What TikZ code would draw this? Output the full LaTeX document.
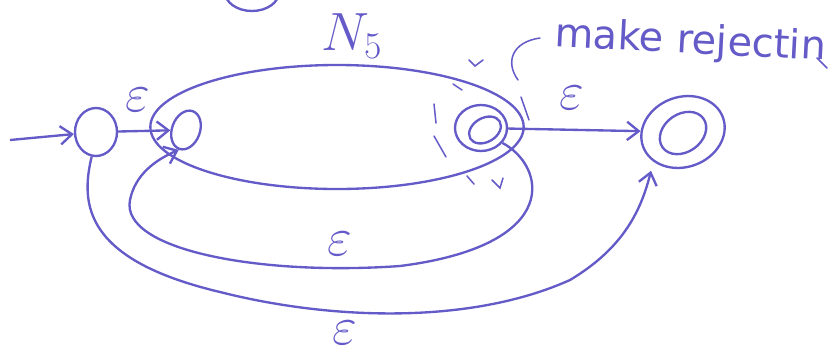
\RequirePackage{fix-cm}
\documentclass[tikz,border=0pt]{standalone}
\usepackage{amsmath}
\usepackage{fontspec}
\newfontfamily\handfont{DejaVu Sans}
\usetikzlibrary{positioning, arrows.meta, shapes.geometric}
\definecolor{ink}{RGB}{100,90,200}
\tikzset{every picture/.append style={thick}}
\tikzset{
  state/.style={draw, ellipse, inner sep=0pt},
  lbl/.style={font=\fontsize{46}{50}\selectfont, inner sep=0pt},
  scribble/.style={line width=1.3pt, line cap=round},
}

\begin{document}
\begin{tikzpicture}[x=0.3mm, y=-0.3mm, ink, line width=2pt, >={Straight Barb[length=3.5mm, width=5.5mm]}]
    \clip (0,0) rectangle (832,355);

    % States
    \node[state, minimum width=12.6mm, minimum height=14.4mm] (q0) at (96,132) {};
    \node[state, minimum width=12mm, minimum height=8.4mm, rotate=70] (s1) at (186,130) {};
    \node[state, minimum width=15.6mm, minimum height=13.8mm] (a) at (481,128) {};
    \node[state, minimum width=10.2mm, minimum height=7.2mm, rotate=30] (ain) at (485,130) {};
    \node[state, minimum width=25.5mm, minimum height=21mm, rotate=20] (f) at (683,132) {};
    \node[state, minimum width=15mm, minimum height=11.4mm, rotate=35] (fin) at (683,133) {};

    % Machine N_5
    \node[state, minimum width=112mm, minimum height=37.2mm] (n5) at (337,127) {};
    \node[lbl] (n5lbl) at (352,36) {$N_5$};
    \draw (252,-8) ellipse (27 and 19);

    % Transitions
    \coordinate (start) at (10,140);
    \draw[->] (start) -- (q0);
    \draw[->] (q0) -- (s1);
    \node[lbl] (eps1) at (138,100) {$\varepsilon$};
    \draw[->] (a) -- (f);
    \node[lbl] (eps2) at (572,98) {$\varepsilon$};

    % Loop back into N_5
    \draw[->] (a.-35) .. controls (545,165) and (565,245) .. (400,266)
        .. controls (260,276) and (120,250) .. (130,200)
        .. controls (135,175) and (155,160) .. (s1.west);
    \node[lbl] (eps3) at (340,244) {$\varepsilon$};

    % Skip to the final state
    \draw[->, shorten >=8pt] (q0.-100) .. controls (80,205) and (85,260) .. (220,292)
        .. controls (330,320) and (470,325) .. (570,280)
        .. controls (620,250) and (640,215) .. (f.-155);
    \node[lbl] (eps4) at (345,333) {$\varepsilon$};

    % Marking the accept state
    \draw[scribble] (434,104) -- (436,123);
    \draw[scribble] (434,136) -- (446,157);
    \draw[scribble] (453,84) -- (462,90);
    \draw[scribble] (469,60) -- (475,66) -- (483,60);
    \draw[scribble] (467,176) -- (474,184);
    \draw[scribble] (492,180) -- (500,188) -- (503,178);
    \draw[scribble] (523,160) -- (527,168);
    \draw[scribble] (521,97) -- (529,120);
    \draw[scribble] (518,80) .. controls (505,62) and (512,42) .. (540,38);
    \draw[scribble] (817,58) -- (827,68);
    \node[anchor=base west, inner sep=0pt, font=\handfont\fontsize{34}{38}\selectfont, rotate=-3] (note) at (553,46) {make rejectin};
\end{tikzpicture}
\end{document}
